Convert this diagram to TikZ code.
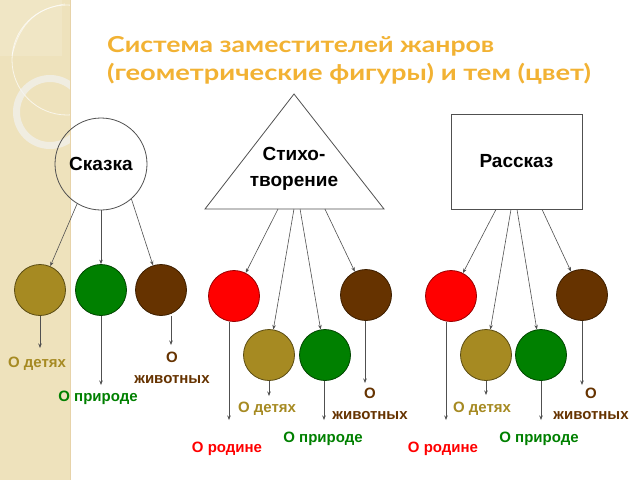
\documentclass[tikz,border=0pt]{standalone}
\usepackage{fontspec}
\setmainfont{Liberation Sans}
\newfontfamily\titlefont{Lato}
\usetikzlibrary{arrows.meta,calc}
\definecolor{strip}{HTML}{EEE2BC}
\definecolor{titleor}{HTML}{F2B233}
\definecolor{olv}{HTML}{A68A22}
\definecolor{grn}{HTML}{008000}
\definecolor{brn}{HTML}{663300}
\definecolor{rd}{HTML}{FF0000}
\definecolor{lineg}{HTML}{505050}
\tikzset{
  topshape/.style={draw=lineg, line width=0.8pt},
  toptext/.style={font=\bfseries\fontsize{19}{26}\selectfont, align=center, text=black},
  ball/.style={circle, minimum size=51pt, inner sep=0pt, line width=0.8pt},
  arr/.style={draw=lineg, line width=0.6pt, -{Stealth[length=4.5pt,width=3.5pt]}},
  lbl/.style={font=\bfseries\fontsize{15}{21}\selectfont, align=center, inner sep=0pt},
  ttl/.style={font=\titlefont\bfseries\fontsize{22}{28}\selectfont, text=titleor, anchor=base west, inner sep=0pt}
}
\begin{document}
\begin{tikzpicture}[x=1pt,y=-1pt]
\useasboundingbox (0,0) rectangle (640,480);
\fill[white] (0,0) rectangle (640,480);
% left decorative strip
\fill[strip] (0,0) rectangle (70,480);
\begin{scope}
  \clip (0,0) rectangle (70,480);
  \fill[white, opacity=0.15] (0,0) rectangle (62,56);
  \draw[white, opacity=0.7, line width=0.8pt] (67,60) circle[radius=55];
  \draw[white, opacity=0.6, line width=0.8pt] (12,56) .. controls (20,20) and (40,8) .. (65,4);
  \draw[white!90!gray, opacity=0.7, line width=7pt] (50,112) circle[radius=33.5];
\end{scope}
\draw[strip!85!brown, line width=1pt] (70.5,0) -- (70.5,480);
% title
\node[ttl] (t1) at (107,52) {\scalebox{1.21}[1]{Система заместителей жанров}};
\node[ttl] (t2) at (107,80) {\scalebox{1.24}[1]{(геометрические фигуры) и тем (цвет)}};
% top shapes
\node[topshape, circle, minimum size=92pt, inner sep=0pt, toptext] (skazka) at (101,164) {Сказка};
\coordinate (tA) at (294,94);
\coordinate (tL) at (205,209);
\coordinate (tR) at (384,209);
\draw[topshape, line join=miter] (tA) -- (tL) -- (tR) -- cycle;
\node[toptext] (stih) at (294,169) {Стихо-\\творение};
\node[topshape, rectangle, minimum width=131pt, minimum height=95pt, inner sep=0pt, toptext] (rasskaz) at (516.5,161.5) {Рассказ};
% balls
\node[ball, fill=olv, draw=olv!55!black] (o1) at (40,290) {};
\node[ball, fill=grn, draw=grn!55!black] (g1) at (101,290) {};
\node[ball, fill=brn, draw=brn!60!black] (b1) at (161,290) {};
\node[ball, fill=rd, draw=rd!60!black] (r2) at (234,296) {};
\node[ball, fill=olv, draw=olv!55!black] (o2) at (269,355) {};
\node[ball, fill=grn, draw=grn!55!black] (g2) at (325,355) {};
\node[ball, fill=brn, draw=brn!60!black] (b2) at (366,295) {};
\node[ball, fill=rd, draw=rd!60!black] (r3) at (451,296) {};
\node[ball, fill=olv, draw=olv!55!black] (o3) at (486,355) {};
\node[ball, fill=grn, draw=grn!55!black] (g3) at (541,355) {};
\node[ball, fill=brn, draw=brn!60!black] (b3) at (582,295) {};
% connectors from genre shapes
\draw[arr] (skazka.239) -- (o1);
\draw[arr] (skazka.270) -- (g1);
\draw[arr] (skazka.311) -- (b1);
\draw[arr] ($(tL)!0.408!(tR)$) -- (r2);
\draw[arr] ($(tL)!0.497!(tR)$) -- (o2);
\draw[arr] ($(tL)!0.531!(tR)$) -- (g2);
\draw[arr] ($(tL)!0.670!(tR)$) -- (b2);
\draw[arr] ($(rasskaz.south)+(-20.5,0)$) -- (r3);
\draw[arr] ($(rasskaz.south)+(-5.5,0)$) -- (o3);
\draw[arr] ($(rasskaz.south)+(0.5,0)$) -- (g3);
\draw[arr] ($(rasskaz.south)+(25.5,0)$) -- (b3);
% labels
\node[lbl, text=olv] (lo1) at (37,364) {О детях};
\node[lbl, text=grn] (lg1) at (98,398) {О природе};
\node[lbl, text=brn] (lb1) at (172,368) {О\\животных};
\node[lbl, text=rd] (lr2) at (227,449) {О родине};
\node[lbl, text=olv] (lo2) at (267,409) {О детях};
\node[lbl, text=grn] (lg2) at (323,439) {О природе};
\node[lbl, text=brn] (lb2) at (370,404) {О\\животных};
\node[lbl, text=rd] (lr3) at (443,449) {О родине};
\node[lbl, text=olv] (lo3) at (482,409) {О детях};
\node[lbl, text=grn] (lg3) at (539,439) {О природе};
\node[lbl, text=brn] (lb3) at (591,404) {О\\животных};
% arrow ends above labels
\coordinate (e1) at (40,348);
\coordinate (e2) at (101,385);
\coordinate (e3) at (171,345);
\coordinate (e4) at (229,420);
\coordinate (e5) at (269,396);
\coordinate (e6) at (324,420);
\coordinate (e7) at (365,383);
\coordinate (e8) at (446,420);
\coordinate (e9) at (486,395);
\coordinate (e10) at (541,420);
\coordinate (e11) at (582,385);
\draw[arr] (e1 |- o1.south) -- (e1);
\draw[arr] (e2 |- g1.south) -- (e2);
\draw[arr] (e3 |- b1.south) -- (e3);
\draw[arr] (e4 |- r2.south) -- (e4);
\draw[arr] (e5 |- o2.south) -- (e5);
\draw[arr] (e6 |- g2.south) -- (e6);
\draw[arr] (e7 |- b2.south) -- (e7);
\draw[arr] (e8 |- r3.south) -- (e8);
\draw[arr] (e9 |- o3.south) -- (e9);
\draw[arr] (e10 |- g3.south) -- (e10);
\draw[arr] (e11 |- b3.south) -- (e11);
\end{tikzpicture}
\end{document}
